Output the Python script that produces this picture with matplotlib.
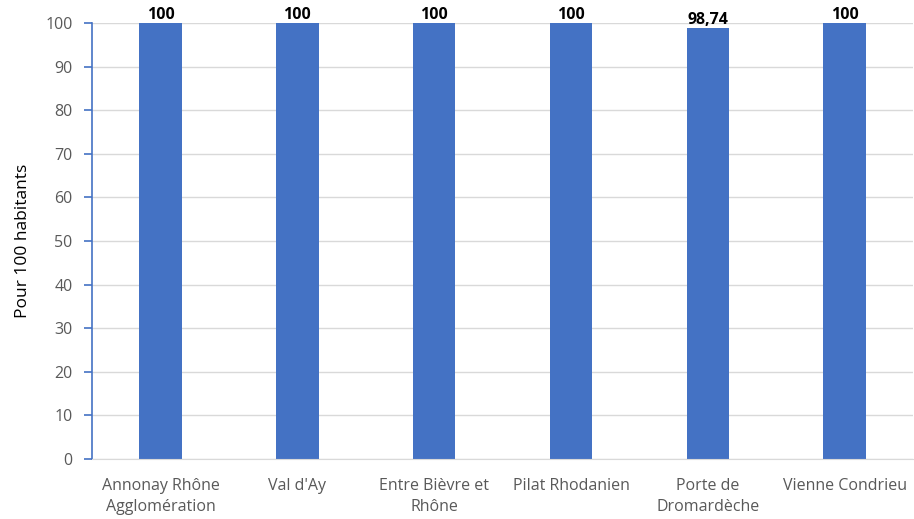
import matplotlib.pyplot as plt

# données
territoires = ["Annonay Rhône\nAgglomération", "Val d'Ay", "Entre Bièvre et\nRhône",
               "Pilat Rhodanien", "Porte de\nDromardèche", "Vienne Condrieu"]
valeurs = [100, 100, 100, 100, 98.74, 100]
etiquettes = ["100", "100", "100", "100", "98,74", "100"]

plt.rcParams['font.family'] = ['Open Sans', 'DejaVu Sans']

fig = plt.figure(figsize=(9.14, 5.19), dpi=100)
ax = fig.add_axes([0.1007, 0.1156, 0.8983, 0.8401])

x = range(len(territoires))
bars = ax.bar(x, valeurs, width=0.31, color="#4472C4", zorder=3)

for b, lab in zip(bars, etiquettes):
    ax.text(b.get_x() + b.get_width() / 2, b.get_height() + 0.1, lab,
            ha="center", va="bottom", fontsize=11.5, fontweight="bold", color="black")

ax.set_xlim(-0.5, len(territoires) - 0.5)
ax.set_ylim(0, 100)
ax.set_yticks(range(0, 101, 10))
ax.set_xticks(list(x))
ax.set_xticklabels(territoires, fontsize=11.5, color="#595959", linespacing=1.4)
ax.tick_params(axis="y", labelsize=11.5, labelcolor="#595959", color="#4472C4",
               length=6, width=1.2, pad=8)
ax.tick_params(axis="x", length=0, pad=14)
ax.set_ylabel("Pour 100 habitants", fontsize=12.5, color="black", labelpad=10)

ax.yaxis.grid(True, color="#D9D9D9", linewidth=1, zorder=0)
for s in ["top", "right"]:
    ax.spines[s].set_visible(False)
ax.spines["left"].set_color("#4472C4")
ax.spines["left"].set_linewidth(1.2)
ax.spines["bottom"].set_color("#D9D9D9")
ax.spines["bottom"].set_zorder(4)

plt.savefig("out.png", dpi=100)
